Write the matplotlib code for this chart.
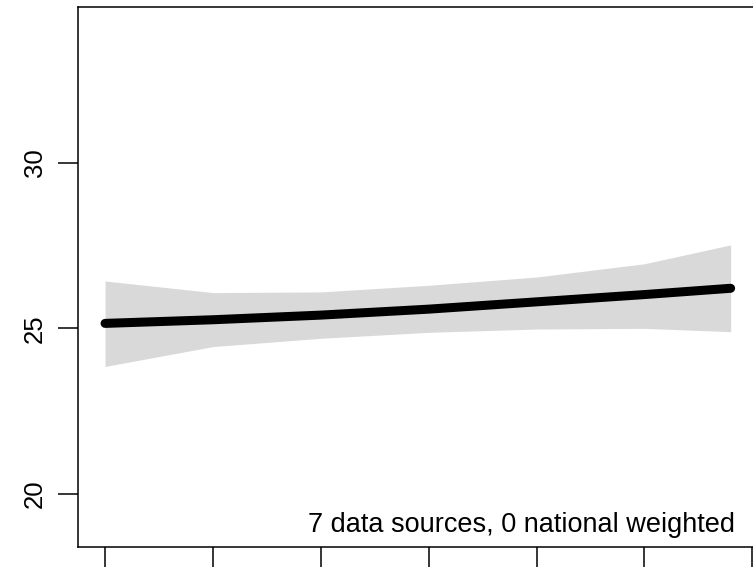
import matplotlib
matplotlib.use("Agg")
import matplotlib.pyplot as plt

plt.rcParams["font.family"] = ["Liberation Sans", "DejaVu Sans"]

# values
years = [1980, 1985, 1990, 1995, 2000, 2005, 2009]
trend = [25.15, 25.26, 25.40, 25.58, 25.80, 26.02, 26.21]
upper = [26.43, 26.08, 26.10, 26.30, 26.55, 26.95, 27.52]
lower = [23.85, 24.45, 24.70, 24.88, 24.98, 25.00, 24.90]
x_ticks = [1980, 1985, 1990, 1995, 2000, 2005, 2010]
y_ticks = [20, 25, 30]
note = "7 data sources, 0 national weighted"

fig = plt.figure(figsize=(7.53, 5.70), dpi=100)
# the right edge of the box falls just outside the picture, as in the reference
ax = fig.add_axes([0.104, 0.0398, 0.9007, 0.9484])

ax.fill_between(years, lower, upper, color="#d9d9d9", linewidth=0)
ax.plot(years, trend, color="black", linewidth=6.5, solid_capstyle="round")

ax.set_xlim(1978.76, 2010.2)
ax.set_ylim(18.39, 34.71)

ax.set_xticks(x_ticks)
ax.set_xticklabels([])
ax.set_yticks(y_ticks)
ax.set_yticklabels([str(v) for v in y_ticks], rotation=90, va="center", fontsize=18.5)
ax.tick_params(axis="both", direction="out", length=14.5, width=1.1, pad=8, colors="black")

for sp in ax.spines.values():
    sp.set_linewidth(1.1)

ax.text(0.968, 0.028, note, transform=ax.transAxes, ha="right", va="baseline",
        fontsize=19.5, color="black")

fig.savefig("out.png", dpi=100)
